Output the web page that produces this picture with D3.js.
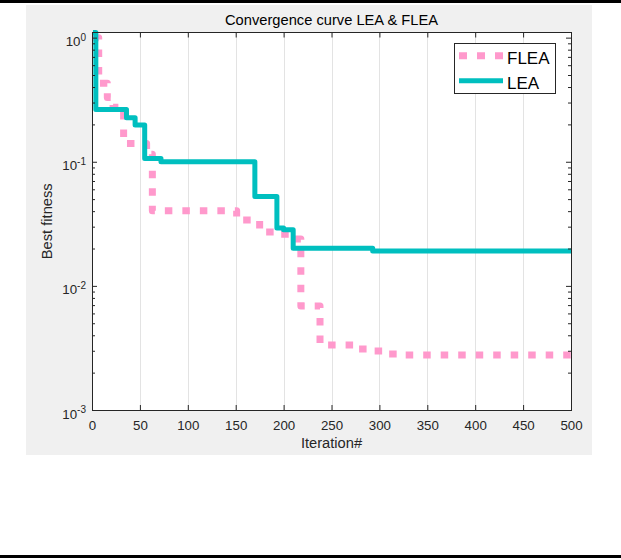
<!DOCTYPE html>
<html>
<head>
<meta charset="utf-8">
<script src="https://cdn.jsdelivr.net/npm/d3@7"></script>
<style>
  body { margin: 0; background: #fff; }
  svg { display: block; }
</style>
</head>
<body>
<svg id="chart" width="621" height="560"></svg>
<script>
// values
const xTicks = [0, 50, 100, 150, 200, 250, 300, 350, 400, 450, 500];
const yDecades = [1e-3, 1e-2, 1e-1, 1];
const yMinor = [2e-3, 3e-3, 4e-3, 5e-3, 6e-3, 7e-3, 8e-3, 9e-3,
                2e-2, 3e-2, 4e-2, 5e-2, 6e-2, 7e-2, 8e-2, 9e-2,
                0.2, 0.3, 0.4, 0.5, 0.6, 0.7, 0.8, 0.9];

const leaIter = [1, 4, 36, 45, 55, 72, 170, 193, 200, 210, 293, 500];
const leaFit  = [1.1, 0.264, 0.226, 0.198, 0.106, 0.100, 0.0525, 0.0292, 0.0283, 0.0201, 0.0191, 0.0191];

const fleaIter = [1, 7, 16, 22, 33, 57, 63, 151, 175, 195, 208, 218, 238, 273, 289, 304, 322, 500];
const fleaFit  = [1.0, 0.43, 0.33, 0.275, 0.14, 0.115, 0.0403, 0.034, 0.0272, 0.026, 0.0239, 0.0069,
                  0.00334, 0.0031, 0.00299, 0.00283, 0.00278, 0.00278];

const legendLabels = ["FLEA", "LEA"];
const titleText = "Convergence curve LEA & FLEA";

const font = "'Liberation Sans', Arial, Helvetica, sans-serif";
const axisColor = "#262626";
const fleaColor = "#ff99cc";
const leaColor  = "#00bfbf";

const svg = d3.select("#chart").style("font-family", font);

// page rules top and bottom
svg.append("rect").attr("x", 0).attr("y", 0).attr("width", 621).attr("height", 3).attr("fill", "#000");
svg.append("rect").attr("x", 0).attr("y", 555).attr("width", 621).attr("height", 3).attr("fill", "#000");

// figure background
svg.append("rect")
  .attr("x", 26).attr("y", 5)
  .attr("width", 566).attr("height", 450)
  .attr("fill", "#f0f0f0");

const plot = { left: 92, right: 571, top: 32.5, bottom: 410 };

const x = d3.scaleLinear().domain([0, 500]).range([plot.left, plot.right]);
const y = d3.scaleLog().domain([1e-3, 1.1]).range([plot.bottom, plot.top]);

svg.append("rect")
  .attr("x", plot.left).attr("y", plot.top)
  .attr("width", plot.right - plot.left).attr("height", plot.bottom - plot.top)
  .attr("fill", "#fff");

// vertical grid
svg.append("g")
  .selectAll("line")
  .data(xTicks.slice(1, -1))
  .join("line")
    .attr("x1", d => Math.round(x(d)) + 0.5).attr("x2", d => Math.round(x(d)) + 0.5)
    .attr("y1", plot.top).attr("y2", plot.bottom)
    .attr("stroke", "#e3e3e3")
    .attr("stroke-width", 1);

// series
const stepLine = d3.line()
  .x(d => x(d[0]))
  .y(d => y(d[1]))
  .curve(d3.curveStepAfter);

const flea = d3.zip(fleaIter, fleaFit);
const lea  = d3.zip(leaIter, leaFit);

svg.append("path")
  .datum(flea)
  .attr("d", stepLine)
  .attr("fill", "none")
  .attr("stroke", fleaColor)
  .attr("stroke-width", 7)
  .attr("stroke-dasharray", "7.5,10")
  .attr("stroke-linejoin", "round");

svg.append("path")
  .datum(lea)
  .attr("d", stepLine)
  .attr("fill", "none")
  .attr("stroke", leaColor)
  .attr("stroke-width", 5)
  .attr("stroke-linejoin", "round");

// axes, ticks pointing inward
function styleAxis(g) {
  g.select(".domain").remove();
  g.selectAll(".tick line").attr("stroke", axisColor);
  g.attr("font-family", font);
}

const gx = svg.append("g")
  .attr("transform", `translate(0,${plot.bottom})`)
  .call(d3.axisBottom(x).tickValues(xTicks).tickSizeInner(-5).tickSizeOuter(0).tickPadding(10.5))
  .call(styleAxis);
gx.selectAll(".tick text").attr("font-size", 13.3).attr("fill", axisColor);

svg.append("g")
  .attr("transform", `translate(0,${plot.top})`)
  .call(d3.axisTop(x).tickValues(xTicks).tickSizeInner(-5).tickSizeOuter(0).tickFormat(""))
  .call(styleAxis);

const gy = svg.append("g")
  .attr("transform", `translate(${plot.left},0)`)
  .call(d3.axisLeft(y).tickValues(yDecades).tickSizeInner(-5).tickSizeOuter(0).tickPadding(6).tickFormat(""))
  .call(styleAxis);

gy.selectAll(".tick text")
  .attr("dy", null)
  .attr("y", 8)
  .attr("fill", axisColor)
  .each(function(d) {
    const t = d3.select(this);
    t.append("tspan").attr("font-size", 13.3).text("10");
    t.append("tspan").attr("font-size", 10).attr("dy", -5.5).text(Math.round(Math.log10(d)));
  });

svg.append("g")
  .attr("transform", `translate(${plot.left},0)`)
  .call(d3.axisLeft(y).tickValues(yMinor).tickSizeInner(-3).tickSizeOuter(0).tickFormat(""))
  .call(styleAxis);

svg.append("g")
  .attr("transform", `translate(${plot.right},0)`)
  .call(d3.axisRight(y).tickValues(yDecades).tickSizeInner(-5).tickSizeOuter(0).tickFormat(""))
  .call(styleAxis);

svg.append("g")
  .attr("transform", `translate(${plot.right},0)`)
  .call(d3.axisRight(y).tickValues(yMinor).tickSizeInner(-3).tickSizeOuter(0).tickFormat(""))
  .call(styleAxis);

// box
svg.append("rect")
  .attr("x", plot.left).attr("y", plot.top)
  .attr("width", plot.right - plot.left).attr("height", plot.bottom - plot.top)
  .attr("fill", "none")
  .attr("stroke", axisColor)
  .attr("stroke-width", 1)
  .attr("shape-rendering", "crispEdges");

// title and labels
svg.append("text")
  .attr("x", (plot.left + plot.right) / 2)
  .attr("y", 25)
  .attr("text-anchor", "middle")
  .attr("font-size", 14.7)
  .attr("fill", "#000")
  .text(titleText);

svg.append("text")
  .attr("x", (plot.left + plot.right) / 2)
  .attr("y", 448)
  .attr("text-anchor", "middle")
  .attr("font-size", 14.7)
  .attr("fill", axisColor)
  .text("Iteration#");

svg.append("text")
  .attr("transform", `translate(52,${(plot.top + plot.bottom) / 2}) rotate(-90)`)
  .attr("text-anchor", "middle")
  .attr("font-size", 14.7)
  .attr("fill", axisColor)
  .text("Best fitness");

// legend
const legend = svg.append("g").attr("transform", "translate(454,43)");
legend.append("rect")
  .attr("width", 101).attr("height", 50)
  .attr("fill", "#fff")
  .attr("stroke", axisColor)
  .attr("stroke-width", 1)
  .attr("shape-rendering", "crispEdges");

const items = legend.selectAll("g.item")
  .data(legendLabels)
  .join("g")
    .attr("class", "item")
    .attr("transform", (d, i) => `translate(0,${12.7 + i * 25})`);

items.append("line")
  .attr("x1", 5).attr("x2", 49)
  .attr("stroke", (d, i) => i === 0 ? fleaColor : leaColor)
  .attr("stroke-width", (d, i) => i === 0 ? 7 : 5)
  .attr("stroke-dasharray", (d, i) => i === 0 ? "8,10" : null);

items.append("text")
  .attr("x", 53)
  .attr("y", 8.3)
  .attr("font-size", 17)
  .attr("fill", "#000")
  .text(d => d);
</script>
</body>
</html>
